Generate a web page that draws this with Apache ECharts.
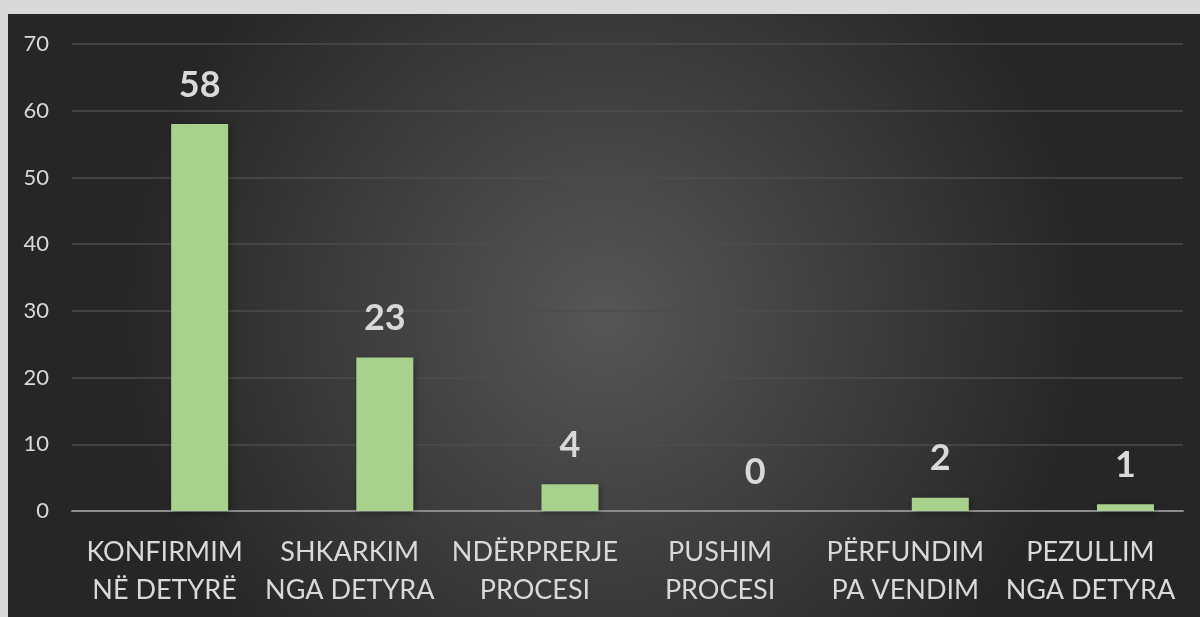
<!DOCTYPE html>
<html><head><meta charset="utf-8">
<script src="https://cdn.jsdelivr.net/npm/echarts@6/dist/echarts.min.js"></script>
<style>
html,body{margin:0;padding:0;background:#d9d9d9;width:1200px;height:617px;overflow:hidden;}
#c{position:absolute;left:8px;top:14px;width:1192px;height:603px;}
</style></head>
<body><div id="c"></div>
<script>
const categories = ['KONFIRMIM\nNË DETYRË','SHKARKIM\nNGA DETYRA','NDËRPRERJE\nPROCESI','PUSHIM\nPROCESI','PËRFUNDIM\nPA VENDIM','PEZULLIM\nNGA DETYRA'];
const values = [58, 23, 4, 0, 2, 1];
const emptySeries = [null, null, null, null, null, null];
const yTicks = {min: 0, max: 70, interval: 10};

const chart = echarts.init(document.getElementById('c'));
chart.setOption({
  backgroundColor: {type:'radial', x:0.5, y:0.5, r:0.8, colorStops:[{offset:0,color:'#565656'},{offset:1,color:'#262626'}]},
  animation:false,
  grid:{left:64, right:17, top:30, bottom:106, containLabel:false},
  xAxis:{type:'category', data:categories,
    axisLine:{lineStyle:{color:'#8c8c8c', width:2}},
    axisTick:{show:false},
    axisLabel:{color:'#d9d9d9', fontFamily:'Lato', fontSize:27, lineHeight:38, margin:22, interval:0}
  },
  yAxis:{type:'value', min:yTicks.min, max:yTicks.max, interval:yTicks.interval,
    axisLine:{show:false}, axisTick:{show:false},
    splitLine:{lineStyle:{color:'#4d4d4d', width:1.5}},
    axisLabel:{color:'#d9d9d9', fontFamily:'Lato', fontSize:22, margin:23}
  },
  series:[
    {type:'bar', data:emptySeries, barWidth:57, barGap:'23%'},
    {type:'bar', data:values, barWidth:57, barGap:'23%',
      itemStyle:{color:'#a9d18e', shadowColor:'rgba(0,0,0,0.35)', shadowBlur:6, shadowOffsetX:2, shadowOffsetY:2},
      label:{show:true, position:'top', distance:21, color:'#d9d9d9', fontFamily:'Lato', fontWeight:'bold', fontSize:36}
    }
  ]
});
</script></body></html>
